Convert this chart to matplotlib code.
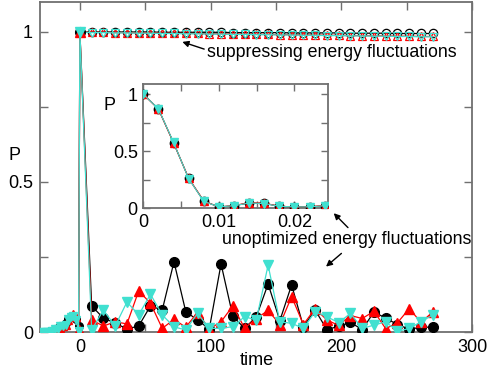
import matplotlib
matplotlib.use("Agg")
import matplotlib.pyplot as plt
from matplotlib.ticker import MultipleLocator

plt.rcParams['font.family'] = ['Liberation Sans', 'DejaVu Sans']

# ---------------- data ----------------
pre_time = [-29, -27, -25, -23, -21, -19, -17, -15, -13, -11, -9, -7, -5, -3, -1]
black_pre = [0, 0, 0, 0.005, 0.005, 0.01, 0.015, 0.02, 0.02, 0.03, 0.045, 0.05, 0.05, 0.045, 0.02]
red_pre = [0, 0, 0, 0, 0.005, 0.005, 0.01, 0.015, 0.02, 0.025, 0.04, 0.055, 0.06, 0.05, 0.01]
cyan_pre = [0, 0, 0, 0, 0.005, 0.01, 0.01, 0.02, 0.02, 0.025, 0.045, 0.05, 0.055, 0.04, 0.005]

time = [0, 9, 18, 27, 36, 45, 54, 63, 72, 81, 90, 99, 108, 117, 126, 135,
        144, 153, 162, 171, 180, 189, 198, 207, 216, 225, 234, 243, 252, 261, 270]

black_unopt = [1.0, 0.087, 0.046, 0.03, 0.01, 0.02, 0.087, 0.073, 0.234, 0.068, 0.04,
               0.01, 0.227, 0.053, 0.012, 0.051, 0.16, 0.038, 0.157, 0.018, 0.073,
               0.008, 0.019, 0.032, 0.008, 0.067, 0.046, 0.025, 0.009, 0.016, 0.016]
red_unopt = [1.0, 0.04, 0.02, 0.034, 0.027, 0.137, 0.096, 0.012, 0.042, 0.016, 0.065,
             0.01, 0.034, 0.087, 0.013, 0.045, 0.072, 0.025, 0.118, 0.025, 0.078,
             0.04, 0.022, 0.055, 0.045, 0.069, 0.011, 0.031, 0.078, 0.032, 0.067]
cyan_unopt = [1.0, 0.007, 0.073, 0.02, 0.1, 0.057, 0.126, 0.057, 0.017, 0.007, 0.062,
              0.012, 0.012, 0.018, 0.051, 0.04, 0.223, 0.034, 0.029, 0.012, 0.068,
              0.051, 0.031, 0.062, 0.012, 0.023, 0.034, 0.002, 0.012, 0.034, 0.057]

black_sup = [1.0, 1.0, 1.0, 1.0, 1.0, 1.0, 1.0, 0.999, 0.999, 0.999, 0.999, 0.999, 0.999,
             0.998, 0.998, 0.998, 0.998, 0.998, 0.997, 0.997, 0.997, 0.997, 0.997, 0.996,
             0.996, 0.996, 0.996, 0.995, 0.995, 0.995, 0.995]
red_sup = [1.0, 0.999, 0.999, 0.998, 0.998, 0.997, 0.997, 0.996, 0.996, 0.995, 0.995,
           0.994, 0.994, 0.993, 0.993, 0.992, 0.992, 0.991, 0.991, 0.990, 0.990, 0.989,
           0.989, 0.988, 0.988, 0.987, 0.987, 0.986, 0.986, 0.985, 0.985]
cyan_sup = [1.0, 0.998, 0.998, 0.997, 0.997, 0.996, 0.996, 0.995, 0.995, 0.994, 0.994,
            0.993, 0.993, 0.992, 0.992, 0.991, 0.991, 0.990, 0.990, 0.989, 0.989, 0.988,
            0.988, 0.987, 0.987, 0.986, 0.986, 0.985, 0.985, 0.984, 0.984]

inset_time = [0, 0.002, 0.004, 0.006, 0.008, 0.010, 0.012, 0.014, 0.016, 0.018, 0.020, 0.022, 0.024]
inset_black = [1.0, 0.87, 0.574, 0.26, 0.06, 0.01, 0.02, 0.045, 0.04, 0.015, 0.01, 0.01, 0.02]
inset_red = [1.0, 0.87, 0.572, 0.262, 0.062, 0.008, 0.022, 0.047, 0.042, 0.017, 0.008, 0.012, 0.022]
inset_cyan = [1.0, 0.872, 0.576, 0.258, 0.058, 0.01, 0.02, 0.044, 0.039, 0.015, 0.01, 0.01, 0.02]

main_xticks = [0, 100, 200, 300]
main_yticks = [0, 0.5, 1]
main_yticklabels = ['0', '0.5', '1']
inset_xticks = [0, 0.01, 0.02]
inset_xticklabels = ['0', '0.01', '0.02']
inset_yticks = [0, 0.5, 1]
inset_yticklabels = ['0', '0.5', '1']

BLACK = 'black'
RED = '#ff0000'
CYAN = '#40e0d0'
FRAME = '#707070'

# ---------------- figure ----------------
fig = plt.figure(figsize=(4.91, 3.70), dpi=100)
ax = fig.add_axes([0.0815, 0.1027, 0.8798, 0.8919])

ms = 7.0
lw = 0.9
series = [(black_pre, black_unopt, black_sup, BLACK, 'o'),
          (red_pre, red_unopt, red_sup, RED, '^'),
          (cyan_pre, cyan_unopt, cyan_sup, CYAN, 'v')]

for pre, unopt, sup, col, mk in series:
    ax.plot(time, sup, color=col, lw=lw, marker=mk, ms=ms - 1, mfc='none',
            mec=col, mew=0.9, zorder=3)
for pre, unopt, sup, col, mk in series:
    ax.plot(pre_time + time, pre + unopt, color=col, lw=lw, zorder=4)
    ax.plot(pre_time, pre, ls='none', marker=mk, ms=ms - 1.5, color=col, zorder=4)
    ax.plot(time, unopt, ls='none', marker=mk, ms=ms, color=col, zorder=4)

ax.set_xlim(-30.5, 300)
ax.set_ylim(0, 1.1)
ax.set_xticks(main_xticks)
ax.set_yticks(main_yticks)
ax.set_yticklabels(main_yticklabels)
ax.xaxis.set_minor_locator(MultipleLocator(50))
ax.yaxis.set_minor_locator(MultipleLocator(0.25))
ax.tick_params(which='both', direction='in', top=True, right=True,
               color=FRAME, width=1.0, labelsize=13, labelcolor='black')
ax.tick_params(which='major', length=6, pad=5)
ax.tick_params(which='minor', length=6)
for s in ax.spines.values():
    s.set_color(FRAME)
    s.set_linewidth(1.3)

ax.set_xlabel('time', fontsize=13)
ax.xaxis.set_label_coords(0.502, -0.062)
ax.set_ylabel('P', fontsize=13, rotation=0, va='center', ha='center')
ax.yaxis.set_label_coords(-0.058, 0.536)

arrow = dict(arrowstyle='-|>', color='black', lw=1.0, mutation_scale=9,
             shrinkA=0, shrinkB=0)
ax.annotate('', xy=(78.4, 0.967), xytext=(95.1, 0.943), arrowprops=arrow)
ax.text(97.4, 0.933, 'suppressing energy fluctuations', fontsize=12.8,
        va='center', ha='left')
ax.text(108.8, 0.307, 'unoptimized energy fluctuations', fontsize=12.8,
        va='center', ha='left')
ax.annotate('', xy=(194.2, 0.396), xytext=(205.1, 0.348), arrowprops=arrow)
ax.annotate('', xy=(188.3, 0.218), xytext=(200.1, 0.262), arrowprops=arrow)

# ---------------- inset ----------------
axi = fig.add_axes([0.2919, 0.4378, 0.3771, 0.3352])
for vals, col, mk in [(inset_black, BLACK, 'o'), (inset_red, RED, '^'),
                      (inset_cyan, CYAN, 'v')]:
    axi.plot(inset_time, vals, color=col, lw=0.8, marker=mk, ms=6, zorder=3)
axi.set_xlim(0, 0.0245)
axi.set_ylim(0, 1.09)
axi.set_xticks(inset_xticks)
axi.set_xticklabels(inset_xticklabels)
axi.set_yticks(inset_yticks)
axi.set_yticklabels(inset_yticklabels)
axi.xaxis.set_minor_locator(MultipleLocator(0.005))
axi.yaxis.set_minor_locator(MultipleLocator(0.25))
axi.tick_params(which='both', direction='in', top=True, right=True,
                color=FRAME, width=1.0, labelsize=13, labelcolor='black')
axi.tick_params(which='major', length=5, pad=4)
axi.tick_params(which='minor', length=5)
for s in axi.spines.values():
    s.set_color(FRAME)
    s.set_linewidth(1.3)
axi.set_ylabel('P', fontsize=13, rotation=0, va='center', ha='center')
axi.yaxis.set_label_coords(-0.18, 0.83)

fig.savefig('out.png', dpi=100)
